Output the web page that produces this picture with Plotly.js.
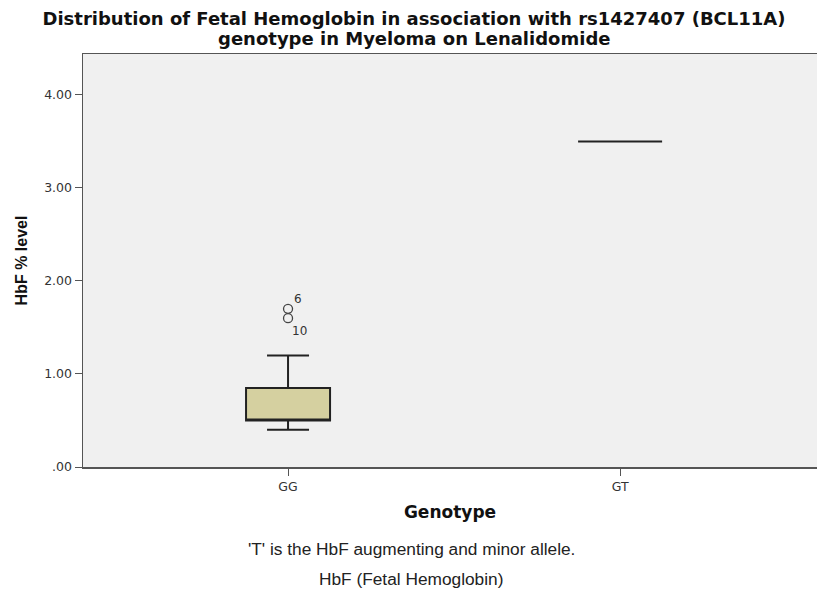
<!DOCTYPE html>
<html>
<head>
<meta charset="utf-8">
<script src="https://cdn.plot.ly/plotly-3.0.1.min.js"></script>
<style>html,body{margin:0;padding:0;background:#fff;}#chart{width:817px;height:592px;}</style>
</head>
<body>
<div id="chart"></div>
<script>
// Data
const categories = ["GG", "GT"];
const q1Vals = [0.50, 3.50];
const medianVals = [0.50, 3.50];
const q3Vals = [0.85, 3.50];
const lowerWhisker = [0.40, 3.50];
const upperWhisker = [1.20, 3.50];
const outlierCats = ["GG", "GG"];
const outlierVals = [1.70, 1.60];
const outlierIds = ["6", "10"];
const yTickVals = [0, 1, 2, 3, 4];
const yTickText = [".00", "1.00", "2.00", "3.00", "4.00"];
const titleLines = ["Distribution of Fetal Hemoglobin in association with rs1427407 (BCL11A)",
                    "genotype in Myeloma on Lenalidomide"];
const footnotes = ["'T' is the HbF augmenting and minor allele.", "HbF (Fetal Hemoglobin)"];

const arial = "Liberation Sans, Arial, sans-serif";
const dejavu = "DejaVu Sans, Verdana, sans-serif";

const T = 54, B = 125, H = 592, L = 83, W = 817;
const plotH = H - T - B, plotW = W - L;
const pyToPaper = py => (H - B - py) / plotH;
const pxToPaper = px => (px - L) / plotW;

const traces = [
  {
    type: "box",
    x: categories,
    q1: q1Vals,
    median: medianVals,
    q3: q3Vals,
    lowerfence: lowerWhisker,
    upperfence: upperWhisker,
    fillcolor: "#d5d0a0",
    line: {color: "#222222", width: 2},
    whiskerwidth: 0.5,
    width: 0.253,
    hoverinfo: "skip",
    showlegend: false
  },
  {
    type: "scatter",
    mode: "markers",
    x: outlierCats,
    y: outlierVals,
    marker: {symbol: "circle-open", size: 9, color: "#444444", line: {width: 1.3}},
    hoverinfo: "skip",
    showlegend: false
  }
];

const annotations = [
  {x: outlierCats[0], y: outlierVals[0], xref: "x", yref: "y", text: outlierIds[0], showarrow: false,
   xshift: 10, yshift: 10, font: {family: dejavu, size: 12, color: "#333"}},
  {x: outlierCats[1], y: outlierVals[1], xref: "x", yref: "y", text: outlierIds[1], showarrow: false,
   xshift: 11, yshift: -13, font: {family: dejavu, size: 12, color: "#333"}},
  {x: pxToPaper(414), y: pyToPaper(38.5), xref: "paper", yref: "paper", yanchor: "middle",
   text: "<b>" + titleLines[1] + "</b>", showarrow: false,
   font: {family: dejavu, size: 18, color: "#111"}},
  {x: pxToPaper(411), y: pyToPaper(549), xref: "paper", yref: "paper", yanchor: "middle",
   text: footnotes[0], showarrow: false, font: {family: arial, size: 17.3, color: "#222"}},
  {x: pxToPaper(411), y: pyToPaper(579), xref: "paper", yref: "paper", yanchor: "middle",
   text: footnotes[1], showarrow: false, font: {family: arial, size: 17.3, color: "#222"}}
];

const layout = {
  width: W, height: H,
  margin: {l: L, r: 0, t: T, b: B, pad: 0},
  paper_bgcolor: "#ffffff",
  plot_bgcolor: "#f0f0f0",
  title: {
    text: "<b>" + titleLines[0] + "</b>",
    font: {family: dejavu, size: 18, color: "#111"},
    xref: "container", yref: "container",
    x: 414 / W, xanchor: "center", y: 1 - 18.5 / H, yanchor: "middle"
  },
  xaxis: {
    type: "category",
    range: [-0.6175, 1.593],
    showgrid: false, zeroline: false,
    showline: true, linecolor: "#555", linewidth: 1.5, mirror: true,
    ticks: "outside", ticklen: 7, tickcolor: "#555",
    tickfont: {family: dejavu, size: 12.5, color: "#333"},
    title: {text: "<b>Genotype</b>", font: {family: dejavu, size: 17, color: "#111"}, standoff: 13}
  },
  yaxis: {
    range: [0, 4.44],
    tickvals: yTickVals, ticktext: yTickText,
    showgrid: false, zeroline: false,
    showline: true, linecolor: "#555", linewidth: 1.5,
    ticks: "outside", ticklen: 7, tickcolor: "#555",
    tickfont: {family: dejavu, size: 12.5, color: "#333"},
    title: {text: "<b>HbF % level</b>", font: {family: arial, size: 16, color: "#111"}, standoff: 12}
  },
  annotations: annotations
};

Plotly.newPlot("chart", traces, layout, {staticPlot: true, displayModeBar: false});
</script>
</body>
</html>
